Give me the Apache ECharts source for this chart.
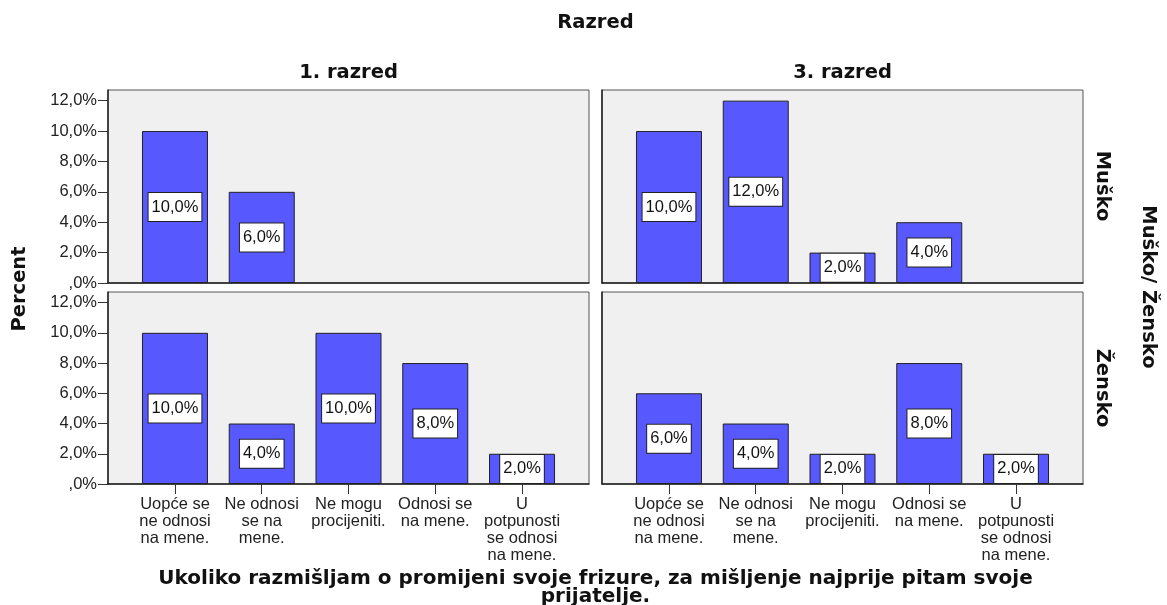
<!DOCTYPE html>
<html>
<head>
<meta charset="utf-8">
<script src="https://cdn.jsdelivr.net/npm/echarts@6/dist/echarts.min.js"></script>
<style>
  html, body { margin: 0; padding: 0; background: #fff; }
  #chart { width: 1167px; height: 605px; }
</style>
</head>
<body>
<div id="chart"></div>
<script>
// categories (x labels wrapped the same way as the original)
var catLabels = [
  'Uopće se\nne odnosi\nna mene.',
  'Ne odnosi\nse na\nmene.',
  'Ne mogu\nprocijeniti.',
  'Odnosi se\nna mene.',
  'U\npotpunosti\nse odnosi\nna mene.'
];
var colNames = ['1. razred', '3. razred'];
var rowNames = ['Muško', 'Žensko'];
var yTicks = [0, 2, 4, 6, 8, 10, 12];

// percent per panel, '-' = no bar
var musko1 = [10, 6, '-', '-', '-'];
var musko3 = [10, 12, 2, 4, '-'];
var zensko1 = [10, 4, 10, 8, 2];
var zensko3 = [6, 4, 2, 8, 2];

var panelData = [musko1, musko3, zensko1, zensko3];

var myChart = echarts.init(document.getElementById('chart'));

function pct(v) {
  if (v == 0) return ',0%';
  return v.toFixed(1).replace('.', ',') + '%';
}

var boldFont = 'bold 19.5px "DejaVu Sans"';
var grids = [], xAxes = [], yAxes = [], series = [];
var lefts = [108, 602], tops = [90, 292], heights = [193, 192];
var catIdx = catLabels.map(function (c, i) { return i; });

panelData.forEach(function (vals, p) {
  var row = Math.floor(p / 2), col = p % 2;
  var bottomRow = row == 1;
  grids.push({
    left: lefts[col], top: tops[row], width: 481, height: heights[row],
    show: true, backgroundColor: '#f0f0f0', borderColor: '#555', borderWidth: 1
  });
  xAxes.push({
    type: 'value', gridIndex: p, min: -0.772, max: 4.772,
    splitLine: { show: false },
    axisLine: { show: true, onZero: false, lineStyle: { color: '#222', width: 1.5 } },
    axisTick: { show: bottomRow, customValues: catIdx, length: 10, lineStyle: { color: '#333' } },
    axisLabel: {
      show: bottomRow, customValues: catIdx, margin: 12,
      fontFamily: 'Liberation Sans', fontSize: 16.5, lineHeight: 17, color: '#222',
      formatter: function (v) { return catLabels[Math.round(v)]; }
    }
  });
  yAxes.push({
    type: 'value', gridIndex: p, min: 0, max: 12.7,
    splitLine: { show: false },
    axisLine: { show: true, onZero: false, lineStyle: { color: '#222', width: 1.5 } },
    axisTick: { show: col == 0, customValues: yTicks, length: 10, lineStyle: { color: '#333' } },
    axisLabel: {
      show: col == 0, customValues: yTicks, margin: 11,
      fontFamily: 'Liberation Sans', fontSize: 16.5, color: '#222',
      formatter: pct
    }
  });
  series.push({
    type: 'bar', xAxisIndex: p, yAxisIndex: p, barWidth: 66,
    data: vals.map(function (v, i) { return [i, v]; }),
    itemStyle: { color: '#5858ff', borderColor: '#222', borderWidth: 1 },
    label: {
      show: true, position: 'inside',
      formatter: function (d) { return pct(d.value[1]); },
      fontFamily: 'Liberation Sans', fontSize: 16.5, color: '#111',
      backgroundColor: '#fff', borderColor: '#222', borderWidth: 1,
      padding: [6, 3, 5, 3]
    }
  });
});

function txt(s, x, y, rot) {
  return {
    type: 'text', x: x, y: y, rotation: rot || 0,
    style: { text: s, font: boldFont, fill: '#111', align: 'center', verticalAlign: 'middle', lineHeight: 18 }
  };
}

var graphics = [
  txt('Razred', 595.5, 23),
  txt(colNames[0], 348.5, 73),
  txt(colNames[1], 842.5, 73),
  txt(rowNames[0], 1102, 186, -Math.PI / 2),
  txt(rowNames[1], 1102, 388, -Math.PI / 2),
  txt('Muško/ Žensko', 1148, 287, -Math.PI / 2),
  txt('Percent', 20, 289, Math.PI / 2),
  txt('Ukoliko razmišljam o promijeni svoje frizure, za mišljenje najprije pitam svoje\nprijatelje.', 595.5, 588)
];
graphics[graphics.length - 1].style.font = 'bold 20px "DejaVu Sans"';

myChart.setOption({
  animation: false,
  grid: grids,
  xAxis: xAxes,
  yAxis: yAxes,
  series: series,
  graphic: graphics
});
</script>
</body>
</html>
